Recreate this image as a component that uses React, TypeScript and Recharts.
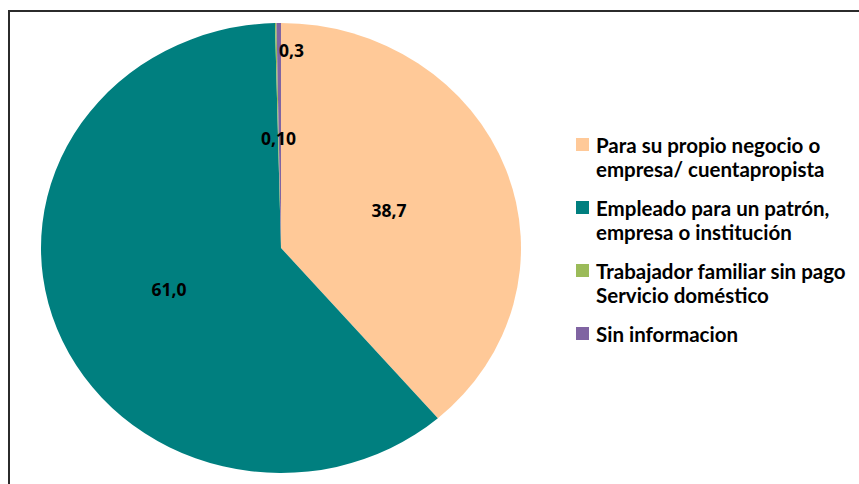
import React from "react";
import { PieChart, Pie, Cell, Legend, Sector } from "recharts";

// Categoría ocupacional (%), pie + legend on the right

const categories = [
  "Para su propio negocio o\nempresa/ cuentapropista",
  "Empleado para un patrón,\nempresa o institución",
  "Trabajador familiar sin pago\nServicio doméstico",
  "Sin informacion",
];
const shares = [38.7, 61.0, 0.1, 0.3];
const valueLabels = ["38,7", "61,0", "0,10", "0,3"];

const colors = ["#FFC998", "#007F7F", "#9BBB59", "#8064A2"];

// label placement: fraction of radius and anchor per slice
const labelRadius = [0.48, 0.5, 0.49, 0.88];
const labelAnchor = ["middle", "middle", "middle", "start"];

const W = 859;
const H = 484;
const CX = 281;
const CY = 248;
const R = 225;
const SX = 240 / 225; // the original pie is slightly wider than tall

const data = categories.map((name, i) => ({ name, value: shares[i] }));

const RAD = Math.PI / 180;
const font = "'Open Sans', 'DejaVu Sans', sans-serif";
const legendFont = "Lato, 'Open Sans', sans-serif";

function WideSector(props: any) {
  const { cx, cy } = props;
  return (
    <g transform={`translate(${cx} ${cy}) scale(${SX} 1) translate(${-cx} ${-cy})`}>
      <Sector {...props} stroke="none" />
    </g>
  );
}

function renderLabel(props: any) {
  const { cx, cy, midAngle, outerRadius, index } = props;
  const r = outerRadius * labelRadius[index];
  const x = cx + r * Math.cos(-midAngle * RAD) * SX;
  const y = cy + r * Math.sin(-midAngle * RAD);
  return (
    <text
      x={x}
      y={y}
      textAnchor={labelAnchor[index] as any}
      dominantBaseline="central"
      fill="#000"
      fontFamily={font}
      fontWeight={700}
      fontSize={17.5}
    >
      {valueLabels[index]}
    </text>
  );
}

function LegendBox(props: any) {
  const items = [...(props.payload || [])].sort(
    (a: any, b: any) => categories.indexOf(a.value) - categories.indexOf(b.value)
  );
  return (
    <div style={{ fontFamily: legendFont, fontWeight: 700, fontSize: 20.5, color: "#000" }}>
      {items.map((it: any, i: number) => (
        <div key={i} style={{ display: "flex", alignItems: "flex-start", marginBottom: 15 }}>
          <span
            style={{
              width: 13,
              height: 13,
              background: it.color,
              marginTop: 5,
              marginRight: 7,
              flex: "none",
            }}
          />
          <span style={{ whiteSpace: "pre", lineHeight: "24px" }}>{it.value}</span>
        </div>
      ))}
    </div>
  );
}

export default function App() {
  return (
    <div style={{ position: "fixed", left: 0, top: 0, width: W, height: H, overflow: "hidden", background: "#fff" }}>
      <div
        style={{
          position: "absolute",
          left: 8,
          top: 10,
          width: W,
          height: H,
          borderTop: "2px solid #2b2b2b",
          borderLeft: "2px solid #2b2b2b",
        }}
      />
      <div style={{ position: "absolute", left: 0, top: 0 }}>
        <PieChart width={W} height={H} margin={{ top: 0, right: 0, bottom: 0, left: 0 }}>
          <Pie
            data={data}
            dataKey="value"
            nameKey="name"
            cx={CX}
            cy={CY}
            outerRadius={R}
            startAngle={90}
            endAngle={-270}
            stroke="none"
            labelLine={false}
            label={renderLabel}
            shape={WideSector}
            isAnimationActive={false}
          >
            {data.map((d, i) => (
              <Cell key={d.name} fill={colors[i]} />
            ))}
          </Pie>
          <Legend
            content={<LegendBox />}
            wrapperStyle={{ left: 576, top: 133, width: 283 }}
          />
        </PieChart>
      </div>
    </div>
  );
}
